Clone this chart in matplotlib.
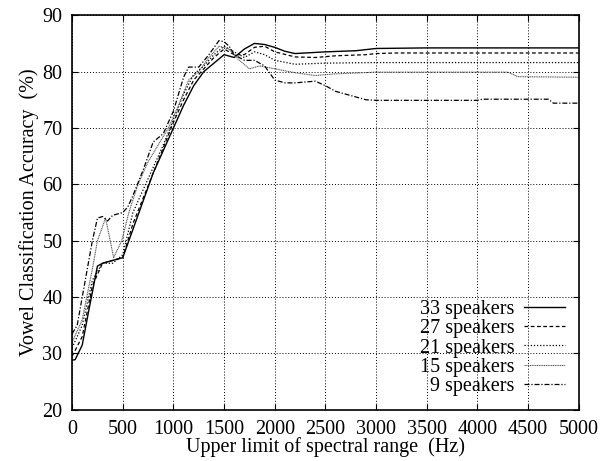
import matplotlib
matplotlib.use("Agg")
import matplotlib.pyplot as plt

# accuracy (%) vs upper limit of spectral range (Hz)
hz_33 = [0, 30, 100, 160, 250, 300, 400, 500, 550, 600, 700, 800, 900, 1000, 1100, 1200, 1300,
         1400, 1500, 1600, 1700, 1800, 1900, 2000, 2100, 2200, 2500, 2800, 3000, 3500, 5000]
acc_33 = [28.8, 28.9, 31.5, 37.2, 45.5, 46.0, 46.5, 47.0, 49.5, 52.0, 57.0, 62.0, 66.0, 70.0, 74.0,
          77.5, 80.0, 81.5, 83.0, 82.5, 84.0, 85.0, 84.8, 84.3, 83.6, 83.2, 83.5, 83.7, 84.1, 84.2, 84.2]

hz_27 = [0, 100, 200, 300, 400, 500, 550, 600, 700, 800, 900, 1000, 1100, 1200, 1300, 1400,
         1500, 1600, 1700, 1800, 1900, 2000, 2200, 2400, 2600, 2900, 3000, 3200, 5000]
acc_27 = [29.5, 33.0, 42.0, 46.0, 46.5, 47.0, 50.0, 53.0, 57.5, 62.0, 66.5, 71.0, 75.0, 78.5, 80.5,
          82.5, 84.0, 83.0, 83.0, 84.3, 84.5, 83.5, 82.6, 82.5, 82.8, 83.0, 83.2, 83.3, 83.3]

hz_21 = [0, 100, 200, 300, 400, 500, 600, 700, 800, 900, 1000, 1100, 1200, 1300, 1400, 1500,
         1600, 1700, 1800, 1900, 2000, 2200, 2500, 3000, 5000]
acc_21 = [31.0, 35.0, 43.0, 46.0, 46.0, 47.5, 55.0, 59.0, 63.0, 67.0, 71.5, 76.0, 79.5, 81.0, 83.0,
          84.5, 83.5, 82.5, 83.5, 83.0, 82.0, 81.3, 81.5, 81.6, 81.6]

hz_15 = [0, 100, 200, 250, 330, 410, 490, 560, 650, 750, 850, 950, 1050, 1150, 1250, 1350, 1450,
         1550, 1650, 1750, 1850, 2000, 2200, 2400, 2600, 3000, 4300, 4400, 5000]
acc_15 = [32.0, 36.0, 45.0, 50.0, 54.0, 47.0, 50.0, 55.0, 60.0, 64.0, 67.0, 70.0, 74.0, 78.5, 80.0,
          82.5, 84.5, 84.0, 82.0, 80.5, 81.0, 80.5, 79.8, 79.3, 79.6, 79.9, 79.9, 79.1, 79.0]

hz_9 = [0, 50, 100, 200, 250, 300, 350, 400, 500, 550, 600, 700, 800, 900, 1000, 1100, 1150, 1250,
        1350, 1450, 1500, 1550, 1600, 1700, 1800, 1900, 2000, 2100, 2200, 2400, 2500, 2600, 2800,
        2900, 3000, 4000, 4050, 4700, 4750, 5000]
acc_9 = [33.5, 35.0, 40.0, 50.0, 54.0, 54.3, 53.5, 54.5, 55.0, 56.0, 58.0, 62.5, 67.5, 69.0, 73.0,
         79.0, 80.8, 80.8, 83.0, 85.5, 85.3, 84.5, 83.0, 82.0, 82.0, 81.0, 78.5, 78.0, 78.0, 78.3,
         77.5, 76.5, 75.5, 75.0, 74.9, 74.9, 75.1, 75.1, 74.4, 74.4]

plt.rcParams['font.family'] = ['Liberation Serif', 'DejaVu Serif']

fig = plt.figure(figsize=(6.06, 4.61), dpi=100)
ax = fig.add_axes([0.119, 0.111, 0.836, 0.856])

ax.plot(hz_33, acc_33, color='black', lw=1.0, ls='-', label='33 speakers')
ax.plot(hz_27, acc_27, color='black', lw=0.9, ls=(0, (3, 2)), label='27 speakers')
ax.plot(hz_21, acc_21, color='black', lw=0.9, ls=(0, (1, 1.5)), label='21 speakers')
ax.plot(hz_15, acc_15, color='#555555', lw=0.8, ls=(0, (1, 0.6)), label='15 speakers')
ax.plot(hz_9, acc_9, color='black', lw=0.9, ls=(0, (4, 1.5, 1, 1.5)), label='9 speakers')

ax.set_xlim(0, 5000)
ax.set_ylim(20, 90)
ax.set_xticks(range(0, 5001, 500))
ax.set_yticks(range(20, 91, 10))
ax.grid(True, color='black', ls=(0, (1, 2)), lw=0.7)
ax.tick_params(direction='in', length=4, labelsize=14.5, top=True, right=True)
ax.tick_params(axis='x', pad=7)
ax.tick_params(axis='y', pad=7)
for s in ax.spines.values():
    s.set_linewidth(1.2)

ax.set_xlabel('Upper limit of spectral range  (Hz)', fontsize=14.5, labelpad=-1)
ax.set_ylabel('Vowel Classification Accuracy  (%)', fontsize=14.5, labelpad=2)

ax.legend(loc='lower right', frameon=False, markerfirst=False, fontsize=14.5,
          handlelength=2.0, labelspacing=0.0, borderaxespad=0.3, handletextpad=0.5)

fig.savefig('out.png', dpi=100)
